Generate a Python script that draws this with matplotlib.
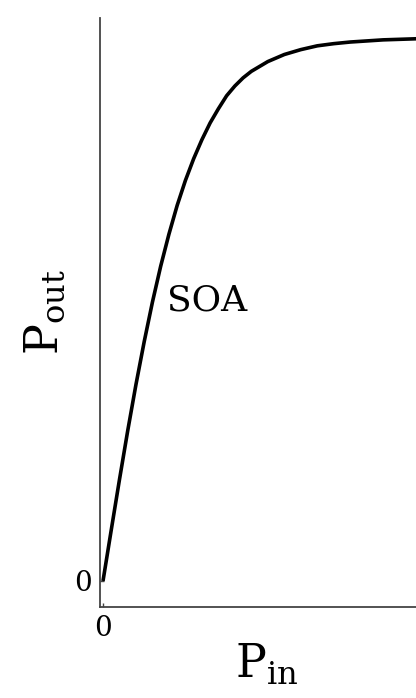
import matplotlib
matplotlib.use("Agg")
import matplotlib.pyplot as plt

plt.rcParams['font.family'] = ['DejaVu Serif']
plt.rcParams['mathtext.fontset'] = 'dejavuserif'

# gain saturation curve of the amplifier (arbitrary units)
p_in = [0.0, 0.25, 0.5, 0.75, 1.0, 1.25, 1.5, 1.75, 2.0, 2.25, 2.5, 2.75,
        3.0, 3.25, 3.5, 3.75, 4.0, 4.25, 4.5, 4.75, 5.0, 5.5, 6.0, 6.5,
        7.0, 7.5, 8.0, 8.5, 9.0, 9.5, 10.0]
p_out = [0.0, 0.94, 1.87, 2.77, 3.62, 4.41, 5.14, 5.80, 6.39, 6.92, 7.38, 7.78,
         8.13, 8.44, 8.70, 8.94, 9.12, 9.27, 9.39, 9.48, 9.57, 9.70, 9.79, 9.86,
         9.90, 9.93, 9.95, 9.97, 9.98, 9.99, 10.0]
curve_label = "SOA"

fig = plt.figure(figsize=(4.16, 6.98), dpi=100)
ax = fig.add_axes([0.240, 0.1304, 0.80, 0.8436])

ax.plot(p_in, p_out, color='black', lw=2.6, solid_capstyle='butt')
ax.text(1.95, 4.99, curve_label, fontsize=26, ha='left', va='baseline')

ax.set_xlim(-0.096, 10.0)
ax.set_ylim(-0.479, 10.37)

for side in ['top', 'right']:
    ax.spines[side].set_visible(False)
for side in ['left', 'bottom']:
    ax.spines[side].set_color('#444444')
    ax.spines[side].set_linewidth(1.3)

ax.set_xticks([0])
ax.set_yticks([0])
ax.tick_params(direction='in', length=3, width=1, colors='#444444',
               labelcolor='black', labelsize=20, pad=6)

ax.set_xlabel(r'$\mathrm{P}_{\mathrm{in}}$', fontsize=33, labelpad=0)
ax.set_ylabel(r'$\mathrm{P}_{\mathrm{out}}$', fontsize=33, labelpad=4)

fig.savefig('out.png', dpi=100)
